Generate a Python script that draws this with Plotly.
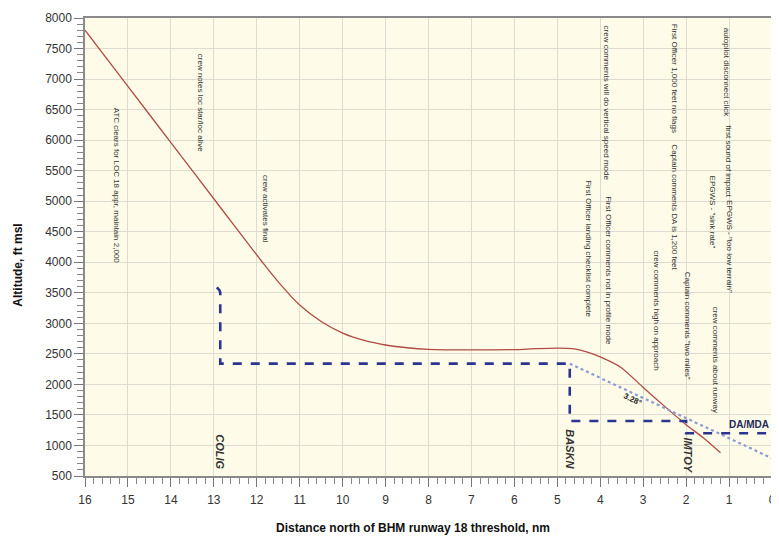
import plotly.graph_objects as go

# Flight path (red): distance nm, altitude ft
path_nm = [16, 15, 14, 13, 12, 11.8, 11.5, 11.0, 10.5, 10.0, 9.5, 9.0, 8.5, 8.0, 7.0, 6.0, 5.5, 5.0, 4.6, 4.3, 4.0, 3.5, 3.0, 2.5, 2.0, 1.6, 1.2]
path_alt = [7800, 6880, 5960, 5040, 4120, 3940, 3680, 3300, 3030, 2840, 2720, 2645, 2600, 2575, 2565, 2570, 2585, 2595, 2580, 2530, 2450, 2270, 1950, 1640, 1340, 1125, 880]

# Published approach profile (blue dashed)
profile_nm = [12.93, 12.87, 12.85, 12.85, 4.71, 4.71, 2.0, 2.0, 0]
profile_alt = [3590, 3545, 3500, 2340, 2340, 1400, 1400, 1200, 1200]

# 3.28 deg glide path (dotted)
glide_nm = [4.71, 0]
glide_alt = [2340, 790]

# Waypoints
wp_names = ["COLIG", "BASKN", "IMTOY"]
wp_nm = [12.85, 4.71, 1.96]
wp_alt = [900, 940, 840]

# Event annotations (vertical text)
ev_text = [
    "ATC clears for LOC 18 appr, maintain 2,000",
    "crew notes loc star/loc alive",
    "crew activates final",
    "crew comments will do vertical speed mode",
    "First Officer landing checklist complete",
    "First Officer comments not in profile mode",
    "crew comments high on approach",
    "First Officer 1,000 feet no flags",
    "Captain comments DA is 1,200 feet",
    "Captain comments \"two miles\"",
    "autopilot disconnect click",
    "first sound of impact",
    "EPGWS - \"too low terrain\"",
    "EPGWS - \"sink rate\"",
    "crew comments about runway",
]
ev_nm = [15.26, 13.31, 11.81, 3.85, 4.29, 3.80, 2.69, 2.27, 2.27, 1.95, 1.07, 1.02, 0.98, 1.39, 1.32]
ev_alt = [5257, 6620, 4874, 6603, 4218, 3857, 3218, 7013, 4907, 2956, 7120, 5650, 4250, 4825, 2400]

FONT = "Arial, Liberation Sans, sans-serif"

fig = go.Figure()
fig.add_trace(go.Scatter(x=path_nm, y=path_alt, mode="lines", line=dict(color="#b04a44", width=1.3, shape="spline", smoothing=0.6), showlegend=False, hoverinfo="skip"))
fig.add_trace(go.Scatter(x=glide_nm, y=glide_alt, mode="lines", line=dict(color="#8d9bd2", width=2.2, dash="dot"), showlegend=False, hoverinfo="skip"))
fig.add_trace(go.Scatter(x=profile_nm, y=profile_alt, mode="lines", line=dict(color="#2b3490", width=2.6, dash="dash"), showlegend=False, hoverinfo="skip"))

annotations = []
for t, x, y in zip(ev_text, ev_nm, ev_alt):
    annotations.append(dict(x=x, y=y, xref="x", yref="y", text=t, showarrow=False, textangle=90,
                            font=dict(family=FONT, size=8, color="#333333"), xanchor="center", yanchor="middle"))
for t, x, y in zip(wp_names, wp_nm, wp_alt):
    annotations.append(dict(x=x, y=y, xref="x", yref="y", text="<b><i>" + t + "</i></b>", showarrow=False, textangle=90,
                            font=dict(family=FONT, size=11, color="#333333"), xanchor="center", yanchor="middle"))
annotations.append(dict(x=3.25, y=1745, xref="x", yref="y", text="<b>3.28°</b>", showarrow=False, textangle=25,
                        font=dict(family=FONT, size=8, color="#222222")))
annotations.append(dict(x=0.998, y=1215, xref="paper", yref="y", text="<b>DA/MDA</b>", showarrow=False,
                        xanchor="right", yanchor="bottom", font=dict(family=FONT, size=10, color="#25285a")))
annotations.append(dict(x=0.478, y=-0.113, xref="paper", yref="paper", text="<b>Distance north of BHM runway 18 threshold, nm</b>",
                        showarrow=False, xanchor="center", yanchor="middle", font=dict(family=FONT, size=12, color="#111111")))
annotations.append(dict(x=-0.097, y=0.46, xref="paper", yref="paper", text="<b>Altitude, ft msl</b>", textangle=-90,
                        showarrow=False, xanchor="center", yanchor="middle", font=dict(family=FONT, size=12, color="#111111")))

# page body has an 8px default margin, so the figure is 8px smaller and margins shifted
fig.update_layout(
    width=771, height=528,
    margin=dict(l=77, r=3, t=9, b=60),
    paper_bgcolor="white", plot_bgcolor="#fefce8",
    annotations=annotations,
    font=dict(family=FONT),
    xaxis=dict(range=[16, 0], dtick=1, tick0=0, showgrid=True, gridcolor="#dedbd0", gridwidth=1,
               showline=True, linecolor="#8a8a8a", linewidth=1.5, mirror=True,
               ticks="outside", ticklen=9, tickcolor="#777777", tickwidth=1,
               minor=dict(dtick=0.2, ticks="outside", ticklen=6, tickcolor="#888888", showgrid=False),
               tickfont=dict(size=12, color="#333333"), ticklabelstandoff=3, zeroline=False),
    yaxis=dict(range=[500, 8000], dtick=500, tick0=0, showgrid=True, gridcolor="#dedbd0", gridwidth=1,
               showline=True, linecolor="#8a8a8a", linewidth=1.5, mirror=True,
               ticks="outside", ticklen=9, tickcolor="#777777", tickwidth=1,
               minor=dict(dtick=100, ticks="outside", ticklen=6, tickcolor="#888888", showgrid=False),
               tickfont=dict(size=12, color="#333333"), zeroline=False),
)

fig.write_html("out.html")
